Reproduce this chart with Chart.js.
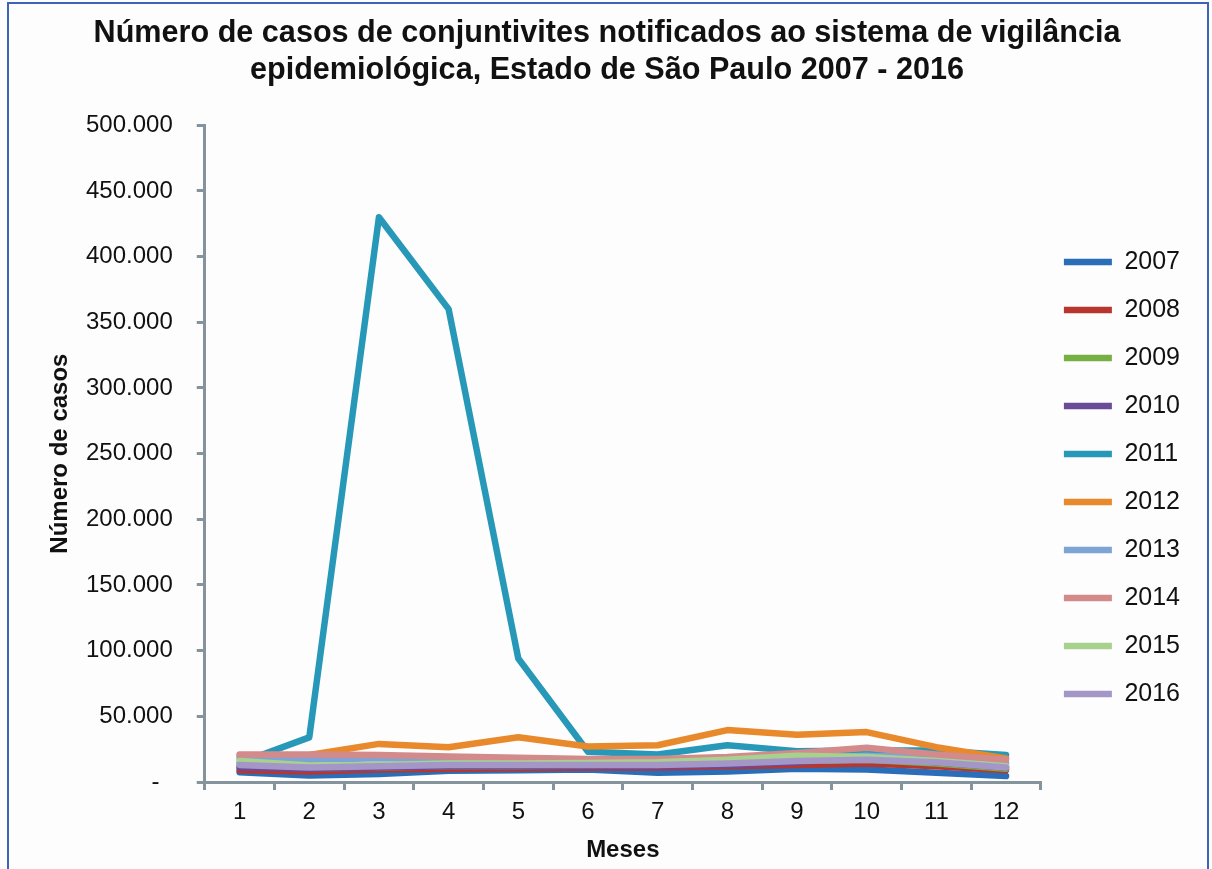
<!DOCTYPE html>
<html>
<head>
<meta charset="utf-8">
<script src="https://cdn.jsdelivr.net/npm/chart.js@4"></script>
<style>
  body { margin: 0; background: #ffffff; }
  #wrap { position: absolute; left: 0; top: 0; width: 1212px; height: 869px; background: #fdfdfe; }
  #frame { position: absolute; left: 7px; top: 2px; width: 1202px; height: 900px; border: 2px solid #3f63b8; box-sizing: border-box; pointer-events: none; }
</style>
</head>
<body>
<div id="wrap">
  <canvas id="chart"></canvas>
  <div id="frame"></div>
</div>
<script>
// months on the x axis
const months = ['1', '2', '3', '4', '5', '6', '7', '8', '9', '10', '11', '12'];

// cases per month
const y2007 = [7500, 5000, 6000, 8500, 9000, 9500, 7000, 8000, 10000, 9500, 7000, 4500];
const y2008 = [9000, 8000, 9500, 10000, 10500, 11000, 11000, 12000, 13000, 14000, 12000, 9000];
const y2009 = [12000, 10500, 11000, 12000, 12000, 12500, 13000, 14000, 16000, 17000, 14000, 10000];
const y2010 = [11000, 10000, 11000, 12000, 12000, 12000, 12000, 13000, 15000, 19000, 15000, 11000];
const y2011 = [14500, 34000, 430000, 360000, 94000, 23000, 21000, 28000, 23500, 24000, 24000, 20500];
const y2012 = [20000, 20500, 29000, 26500, 34000, 27000, 28000, 39500, 36000, 38000, 26500, 18000];
const y2013 = [18000, 17000, 18000, 17000, 16000, 15500, 15500, 16500, 18000, 20000, 18000, 14000];
const y2014 = [21000, 21000, 20500, 19500, 18500, 17500, 17500, 19000, 22000, 26000, 21000, 17000];
const y2015 = [16000, 12500, 13000, 14000, 14000, 14500, 15000, 17000, 20000, 19000, 16000, 12000];
const y2016 = [13000, 11000, 12000, 13000, 13000, 13000, 13000, 14000, 16000, 17000, 15000, 11000];

const years = ['2007', '2008', '2009', '2010', '2011', '2012', '2013', '2014', '2015', '2016'];
const series = [y2007, y2008, y2009, y2010, y2011, y2012, y2013, y2014, y2015, y2016];
const colors = ['#2a6db8', '#b7372e', '#76b043', '#6a4b9a', '#2898b8',
                '#e8892b', '#7ea4d6', '#d38a8a', '#a9d18e', '#a497c8'];

const yTicks = [0, 50000, 100000, 150000, 200000, 250000, 300000, 350000, 400000, 450000, 500000];

function fmt(v) {
    if (v === 0) return '-  ';
    return String(v).replace(/\B(?=(\d{3})+(?!\d))/g, '.');
}

const axisColor = '#85949c';
const font = 'Arial, "Liberation Sans", sans-serif';

const ctx = document.getElementById('chart').getContext('2d');
new Chart(ctx, {
    type: 'line',
    data: {
        labels: months,
        datasets: series.map((d, i) => ({
            label: years[i],
            data: d,
            borderColor: colors[i],
            backgroundColor: colors[i],
            borderWidth: 6.5,
            borderCapStyle: 'round',
            borderJoinStyle: 'round',
            pointRadius: 0,
            tension: 0,
            order: series.length - i
        }))
    },
    options: {
        responsive: true,
        maintainAspectRatio: false,
        animation: false,
        layout: {
            padding: { left: 24, right: 22, top: 0, bottom: 0 }
        },
        plugins: {
            title: {
                display: true,
                text: ['Número de casos de conjuntivites notificados ao sistema de vigilância',
                       'epidemiológica, Estado de São Paulo 2007 - 2016'],
                color: '#111',
                font: { family: font, size: 30.6, weight: 'bold', lineHeight: 1.18 },
                padding: { top: 16, bottom: 37 }
            },
            legend: {
                position: 'right',
                title: {
                    display: true,
                    text: ' ',
                    font: { size: 10, lineHeight: 1 },
                    padding: { top: 0, bottom: 77 }
                },
                labels: {
                    usePointStyle: true,
                    pointStyle: 'line',
                    pointStyleWidth: 48,
                    padding: 23,
                    color: '#111',
                    font: { family: font, size: 25 },
                    sort: (a, b) => a.datasetIndex - b.datasetIndex
                }
            },
            tooltip: { enabled: false }
        },
        scales: {
            x: {
                offset: true,
                grid: {
                    offset: true,
                    drawOnChartArea: false,
                    drawTicks: true,
                    tickLength: 8,
                    color: axisColor,
                    lineWidth: 3
                },
                border: { display: true, color: axisColor, width: 3 },
                ticks: {
                    color: '#111',
                    font: { family: font, size: 24, lineHeight: 1 },
                    padding: 10
                },
                title: {
                    display: true,
                    text: 'Meses',
                    color: '#111',
                    font: { family: font, size: 24, weight: 'bold', lineHeight: 1 },
                    padding: { top: 4, bottom: 7 }
                }
            },
            y: {
                min: 0,
                max: 500000,
                afterBuildTicks: axis => { axis.ticks = yTicks.map(v => ({ value: v })); },
                grid: {
                    drawOnChartArea: false,
                    drawTicks: true,
                    tickLength: 8,
                    color: axisColor,
                    lineWidth: 3
                },
                border: { display: true, color: axisColor, width: 3 },
                ticks: {
                    color: '#111',
                    font: { family: font, size: 24 },
                    padding: 24,
                    callback: v => fmt(v)
                },
                title: {
                    display: true,
                    text: 'Número de casos',
                    color: '#111',
                    font: { family: font, size: 24, weight: 'bold', lineHeight: 1 },
                    padding: { top: 24, bottom: -10 }
                }
            }
        }
    }
});
</script>
</body>
</html>
